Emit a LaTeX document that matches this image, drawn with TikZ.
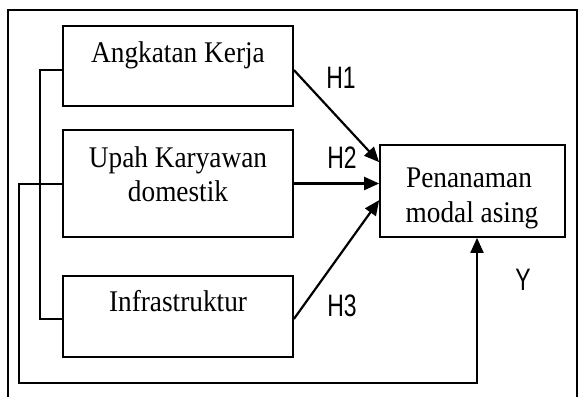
\documentclass[tikz,border=0pt]{standalone}
\usepackage{fontspec}
\setmainfont{Liberation Serif}
\newfontfamily\labsans{Liberation Sans}
\usetikzlibrary{arrows.meta,calc}
\tikzset{
  boxnode/.style={draw, line width=1.7pt, minimum width=230pt, inner sep=0pt},
  txt/.style={anchor=base, inner sep=0pt, font=\fontsize{30}{34}\selectfont, xscale=0.91},
  hlab/.style={inner sep=0pt, font=\labsans\fontsize{31}{34}\selectfont, xscale=0.74},
  conn/.style={line width=1.7pt},
  arr/.style={line width=2.2pt, -{Triangle[length=15pt,width=13pt]}},
}
\begin{document}
\begin{tikzpicture}[x=1pt,y=-1pt]
\useasboundingbox (0,0) rectangle (585,397);
% outer frame
\draw[line width=1.7pt] (8,397) -- (8,10) -- (577,10) -- (577,397);
% boxes
\node[boxnode, minimum height=80pt] (b1) at (178,66) {};
\node[boxnode, minimum height=107pt] (b2) at (178,183.5) {};
\node[boxnode, minimum height=81pt] (b3) at (178,316.5) {};
\node[boxnode, minimum width=185pt, minimum height=92pt] (b4) at (472.5,191) {};
% texts
\node[txt] (t1) at (178,62) {Angkatan Kerja};
\node[txt] (t2a) at (178,167) {Upah Karyawan};
\node[txt] (t2b) at (178,201) {domestik};
\node[txt] (t3) at (178,311) {Infrastruktur};
\node[txt] (t4a) at (469,187) {Penanaman};
\node[txt] (t4b) at (472,222) {modal asing};
% labels
\node[hlab] (h1) at (341,78) {H1};
\node[hlab] (h2) at (342,158) {H2};
\node[hlab] (h3) at (342,306) {H3};
\node[hlab] (y) at (523,280) {Y};
% bracket
\draw[conn] ($(b1.west)+(0,4)$) -- ++(-22,0) |- ($(b3.west)+(0,2.5)$);
% loop to Y
\draw[arr, line width=2pt] (b2.west) -- ++(-43.5,0) -- ++(0,199.5) -| ($(b4.south)+(4.5,0)$);
% hypothesis arrows
\draw[arr] ($(b1.east)+(0,4)$) -- ($(b4.north west)+(0,18)$);
\draw[arr] (b2.east) -- (b2.east -| b4.west);
\draw[arr] ($(b3.east)+(0,2.5)$) -- ($(b4.north west)+(0,56)$);
\end{tikzpicture}
\end{document}
